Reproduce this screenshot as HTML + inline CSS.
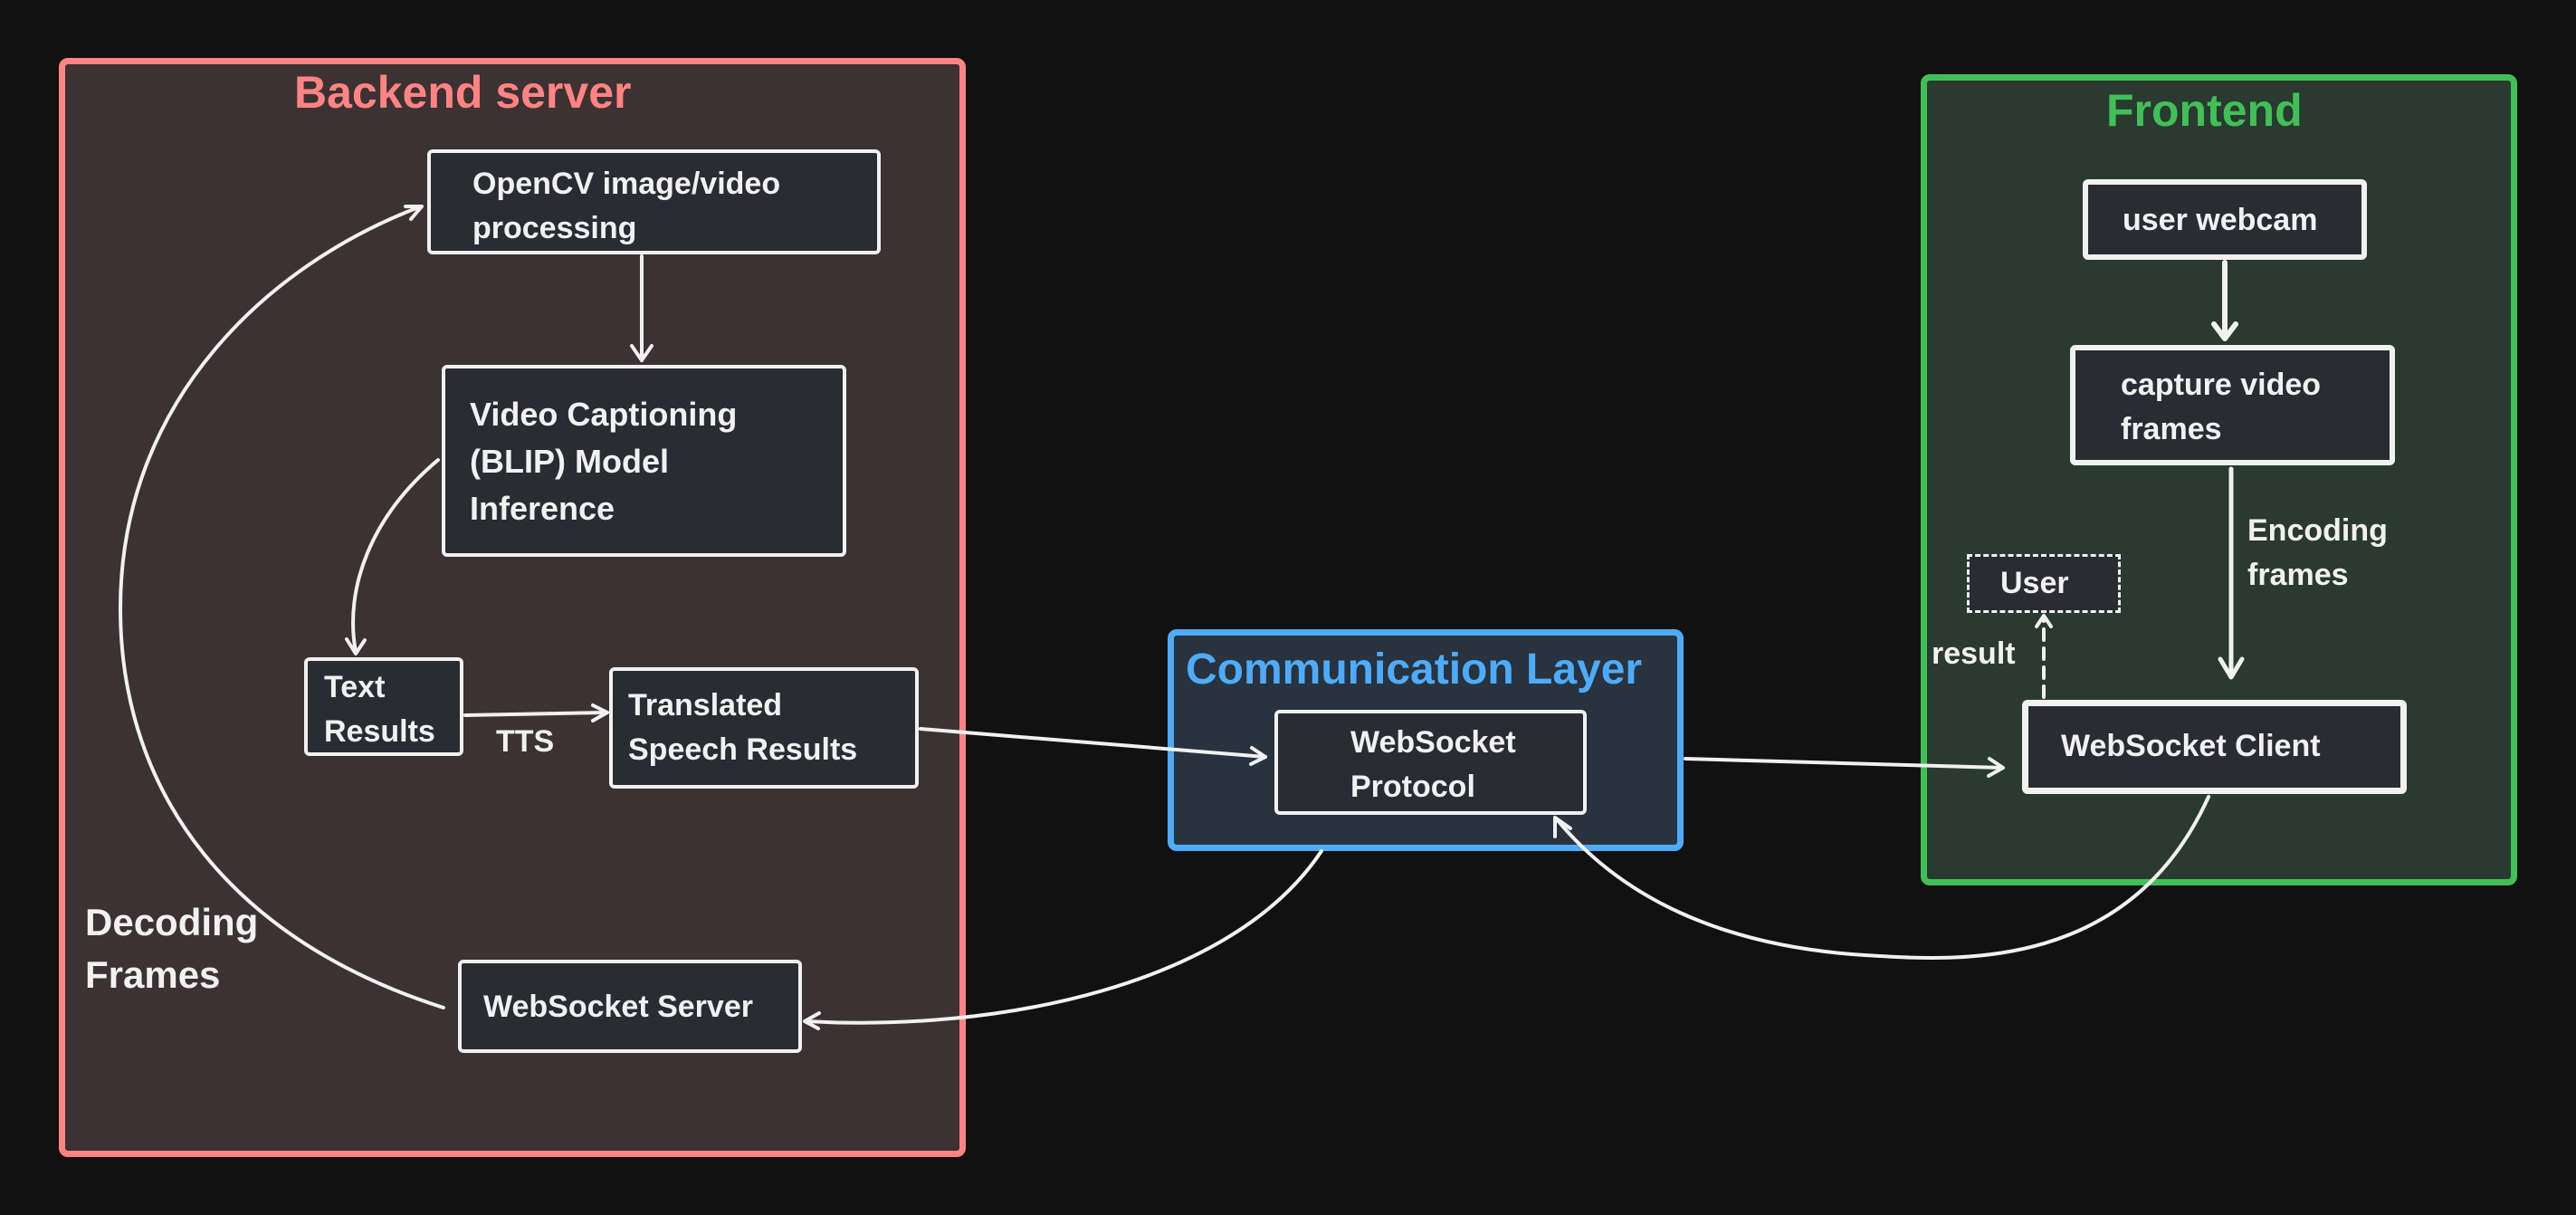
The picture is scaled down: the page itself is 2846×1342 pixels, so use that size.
<!DOCTYPE html>
<html><head><meta charset="utf-8"><style>
html,body{margin:0;padding:0;background:#111111;}
body{width:2846px;height:1342px;position:relative;overflow:hidden;font-family:"Liberation Sans",sans-serif;font-weight:bold;color:#f1f1f1;}
.g{position:absolute;box-sizing:border-box;border-radius:10px;}
.b{position:absolute;box-sizing:border-box;background:#2a2c33;border:4px solid #f1f1f1;border-radius:6px;font-size:34px;line-height:49px;}
.t{position:absolute;font-size:34px;line-height:49px;white-space:nowrap;}
</style></head><body>
<div class="g" style="left:65px;top:64px;width:1002px;height:1214px;background:#3c3133;border:7px solid #ff8383;"></div>
<div class="g" style="left:1290px;top:695px;width:570px;height:245px;background:#28333f;border:7px solid #4dabf7;"></div>
<div class="g" style="left:2122px;top:82px;width:659px;height:896px;background:#2b3a30;border:7px solid #40c057;"></div>

<div class="t" style="left:325px;top:72px;font-size:50px;line-height:60px;color:#ff8383;">Backend server</div>
<div class="t" style="left:1310px;top:710px;font-size:48px;line-height:60px;color:#4dabf7;">Communication Layer</div>
<div class="t" style="left:2327px;top:92px;font-size:50px;line-height:60px;color:#40c057;">Frontend</div>

<div class="b" style="left:472px;top:165px;width:501px;height:116px;padding:10px 0 0 46px;">OpenCV image/video<br>processing</div>
<div class="b" style="left:488px;top:403px;width:447px;height:212px;padding:25px 0 0 27px;font-size:36px;line-height:52px;">Video Captioning<br>(BLIP) Model<br>Inference</div>
<div class="b" style="left:336px;top:726px;width:176px;height:109px;padding:5px 0 0 18px;">Text<br>Results</div>
<div class="b" style="left:673px;top:737px;width:342px;height:134px;padding:14px 0 0 17px;">Translated<br>Speech Results</div>
<div class="b" style="left:506px;top:1060px;width:380px;height:103px;padding:24px 0 0 24px;">WebSocket Server</div>
<div class="b" style="left:1408px;top:784px;width:345px;height:116px;padding:8px 0 0 80px;">WebSocket<br>Protocol</div>
<div class="b" style="left:2301px;top:198px;width:314px;height:89px;border-width:6px;padding:15px 0 0 38px;">user webcam</div>
<div class="b" style="left:2287px;top:381px;width:359px;height:133px;border-width:6px;padding:14px 0 0 50px;">capture video<br>frames</div>
<div class="b" style="left:2173px;top:612px;width:170px;height:65px;border:3px dashed #f1f1f1;border-radius:0;padding:5px 0 0 34px;">User</div>
<div class="b" style="left:2234px;top:773px;width:425px;height:104px;border-width:7px;padding:20px 0 0 36px;">WebSocket Client</div>

<div class="t" style="left:94px;top:990px;font-size:42px;line-height:58px;">Decoding<br>Frames</div>
<div class="t" style="left:548px;top:795px;">TTS</div>
<div class="t" style="left:2483px;top:562px;">Encoding<br>frames</div>
<div class="t" style="left:2134px;top:698px;">result</div>

<svg width="2846" height="1342" style="position:absolute;left:0;top:0" fill="none" stroke="#f1f1f1" stroke-width="4" stroke-linecap="round" stroke-linejoin="round">
<path d="M709,283 L709,398"/><path d="M698,382 L709,398 L720,382"/>
<path d="M484,508 C410,570 380,650 393,720"/><path d="M383,706 L393,722 L403,707"/>
<path d="M514,790 L670,787"/><path d="M655,779 L671,787 L655,796"/>
<path d="M1017,805 L1398,836"/><path d="M1383,826 L1398,836 L1382,844"/>
<path d="M1862,838 L2212,848"/><path d="M2198,838 L2213,848 L2197,857"/>
<path stroke-width="6" d="M2458,290 L2458,372"/><path stroke-width="6" d="M2446,358 L2458,374 L2470,358"/>
<path stroke-width="5" d="M2465,518 L2465,746"/><path stroke-width="5" d="M2453,728 L2465,748 L2477,728"/>
<path stroke-dasharray="12,9" d="M2258,770 L2258,682"/><path d="M2250,692 L2258,680 L2266,692"/>
<path d="M2440,880 C2350,1080 2150,1060 2060,1055 C1900,1045 1790,990 1720,905"/><path d="M1718,924 L1718,903 L1735,915"/>
<path d="M1460,940 C1360,1090 1100,1140 890,1128"/><path d="M905,1119 L889,1128 L904,1136"/>
<path d="M490,1113 C260,1040 133,880 133,672 C133,440 300,290 465,228"/><path d="M448,228 L466,228 L454,242"/>
</svg>
</body></html>
